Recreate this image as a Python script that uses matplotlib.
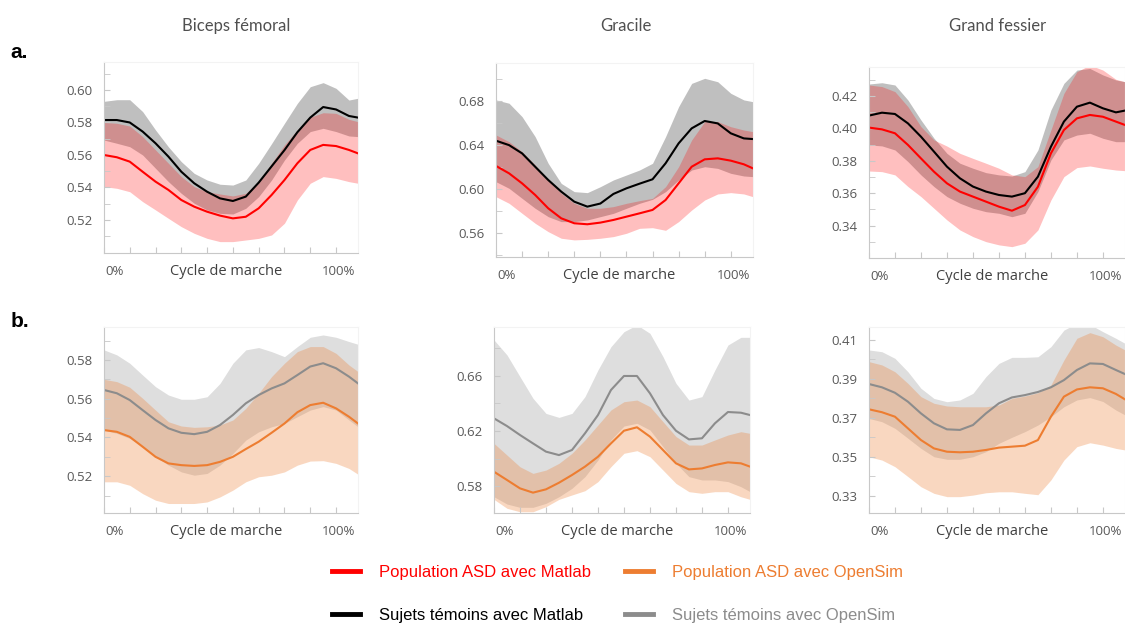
import numpy as np
import matplotlib
matplotlib.use('Agg')
import matplotlib.pyplot as plt
from matplotlib.lines import Line2D

# gait cycle position, in x-tick units (tick 0 = 0 %, tick 9 = 100 %)
cycle = [0, 0.5, 1, 1.5, 2, 2.5, 3, 3.5, 4, 4.5, 5, 5.5, 6, 6.5, 7, 7.5, 8, 8.5, 9, 9.5, 9.85]

# a. Matlab -- Biceps femoral
a_bf_asd_m = [0.560, 0.5586, 0.5559, 0.5497, 0.5436, 0.5385, 0.5323, 0.5282, 0.5251, 0.5227, 0.521,
              0.522, 0.5272, 0.5354, 0.5446, 0.5549, 0.5631, 0.5662, 0.5655, 0.5631, 0.561]
a_bf_asd_hi = [0.580, 0.5795, 0.5778, 0.5713, 0.5631, 0.5549, 0.5467, 0.5405, 0.5374, 0.536, 0.5348,
               0.5364, 0.5436, 0.5549, 0.5662, 0.5754, 0.5832, 0.586, 0.5856, 0.5819, 0.5805]
a_bf_asd_lo = [0.5405, 0.5395, 0.5374, 0.5313, 0.5262, 0.521, 0.5159, 0.5118, 0.5087, 0.5067, 0.5067,
               0.5077, 0.5087, 0.5108, 0.518, 0.5323, 0.5426, 0.5467, 0.5456, 0.5436, 0.5426]
a_bf_ctl_m = [0.5815, 0.5815, 0.580, 0.5744, 0.5672, 0.559, 0.5497, 0.5426, 0.5374, 0.5333, 0.5317,
              0.5344, 0.543, 0.553, 0.563, 0.574, 0.583, 0.5895, 0.588, 0.584, 0.583]
a_bf_ctl_hi = [0.593, 0.594, 0.594, 0.5867, 0.5754, 0.565, 0.5559, 0.5487, 0.5446, 0.542, 0.5415,
               0.5446, 0.5549, 0.567, 0.5795, 0.5918, 0.602, 0.6045, 0.601, 0.5938, 0.5949]
a_bf_ctl_lo = [0.5692, 0.5672, 0.5651, 0.560, 0.5518, 0.5436, 0.5364, 0.5303, 0.5262, 0.5241, 0.5237,
               0.5272, 0.5344, 0.5446, 0.5569, 0.5672, 0.5744, 0.5764, 0.5744, 0.5717, 0.5713]

# a. Matlab -- Gracile
a_gr_asd_m = [0.6211, 0.6144, 0.6053, 0.5948, 0.5827, 0.5736, 0.5691, 0.5682, 0.5697, 0.5721, 0.5751,
              0.5781, 0.5812, 0.5902, 0.6053, 0.6204, 0.6271, 0.628, 0.6259, 0.6226, 0.6189]
a_gr_asd_hi = [0.6492, 0.6431, 0.634, 0.622, 0.6084, 0.5963, 0.5872, 0.5827, 0.5827, 0.5842, 0.5872,
               0.5896, 0.5917, 0.6023, 0.6204, 0.6446, 0.6613, 0.6613, 0.6567, 0.6537, 0.6522]
a_gr_asd_lo = [0.5932, 0.5872, 0.5781, 0.5691, 0.5615, 0.5555, 0.554, 0.5545, 0.5555, 0.557, 0.560,
               0.5645, 0.5651, 0.5627, 0.5706, 0.5811, 0.5902, 0.5957, 0.5969, 0.5957, 0.5932]
a_gr_ctl_m = [0.644, 0.640, 0.6325, 0.6204, 0.6084, 0.5978, 0.5887, 0.5842, 0.587, 0.5957, 0.6008,
              0.605, 0.609, 0.6235, 0.6416, 0.6552, 0.6619, 0.6597, 0.6507, 0.6461, 0.6455]
a_gr_ctl_hi = [0.681, 0.678, 0.6658, 0.6477, 0.6235, 0.6053, 0.5978, 0.5969, 0.6023, 0.6084, 0.6129,
               0.6174, 0.6235, 0.6477, 0.6749, 0.696, 0.7006, 0.6975, 0.687, 0.681, 0.6794]
a_gr_ctl_lo = [0.6068, 0.6008, 0.5917, 0.5827, 0.5751, 0.5706, 0.5706, 0.5721, 0.5751, 0.5781, 0.5827,
               0.5872, 0.5908, 0.5978, 0.6084, 0.6174, 0.6204, 0.6189, 0.6144, 0.612, 0.6114]

# a. Matlab -- Grand fessier
a_gf_asd_m = [0.4005, 0.3994, 0.397, 0.3898, 0.3815, 0.3733, 0.3661, 0.361, 0.3579, 0.3548, 0.3517,
              0.3492, 0.3527, 0.364, 0.3846, 0.399, 0.4062, 0.4083, 0.4072, 0.4042, 0.4021]
a_gf_asd_hi = [0.4268, 0.4258, 0.4227, 0.4134, 0.4011, 0.3929, 0.3891, 0.3846, 0.3815, 0.3785, 0.3754,
               0.3713, 0.3702, 0.3764, 0.399, 0.4216, 0.435, 0.4391, 0.436, 0.4303, 0.4288]
a_gf_asd_lo = [0.3737, 0.3733, 0.3713, 0.3641, 0.3579, 0.3507, 0.3435, 0.3373, 0.3332, 0.3301, 0.3281,
               0.327, 0.3291, 0.3373, 0.3558, 0.3702, 0.3758, 0.3768, 0.3754, 0.3743, 0.3739]
a_gf_ctl_m = [0.4079, 0.4097, 0.4089, 0.4031, 0.3949, 0.3857, 0.3764, 0.3692, 0.3641, 0.361, 0.3589,
              0.3579, 0.360, 0.3702, 0.3887, 0.4042, 0.4134, 0.4159, 0.4124, 0.4099, 0.411]
a_gf_ctl_hi = [0.4274, 0.4282, 0.4268, 0.4175, 0.4052, 0.394, 0.3846, 0.3785, 0.3754, 0.3727, 0.3713,
               0.3706, 0.3733, 0.3867, 0.4114, 0.4278, 0.436, 0.437, 0.433, 0.4299, 0.4288]
a_gf_ctl_lo = [0.3898, 0.3892, 0.3867, 0.3795, 0.3713, 0.3641, 0.3579, 0.3538, 0.3507, 0.3486, 0.3476,
               0.3455, 0.3476, 0.361, 0.3805, 0.3929, 0.3959, 0.397, 0.3939, 0.3918, 0.3918]

# b. OpenSim -- Biceps femoral
b_bf_asd_m = [0.5438, 0.5429, 0.5403, 0.5352, 0.530, 0.5266, 0.5257, 0.5253, 0.5257, 0.5274, 0.530,
              0.534, 0.5378, 0.5424, 0.5472, 0.553, 0.5567, 0.5579, 0.555, 0.5507, 0.5472]
b_bf_asd_hi = [0.570, 0.5688, 0.5659, 0.5602, 0.5541, 0.5481, 0.5459, 0.5452, 0.5455, 0.5464, 0.549,
               0.555, 0.5628, 0.5714, 0.5783, 0.5843, 0.5869, 0.5869, 0.5834, 0.5774, 0.574]
b_bf_asd_lo = [0.5171, 0.5171, 0.5153, 0.511, 0.5076, 0.5059, 0.5059, 0.5059, 0.5067, 0.5093, 0.5128,
               0.5171, 0.5197, 0.5205, 0.5222, 0.5257, 0.5278, 0.528, 0.5266, 0.524, 0.521]
b_bf_ctl_m = [0.5645, 0.5628, 0.5593, 0.5541, 0.549, 0.5447, 0.5424, 0.5417, 0.5429, 0.5464, 0.5516,
              0.5576, 0.5619, 0.5653, 0.5679, 0.5722, 0.5766, 0.5783, 0.5757, 0.5714, 0.5679]
b_bf_ctl_hi = [0.5852, 0.5826, 0.5783, 0.5722, 0.5662, 0.5619, 0.5597, 0.5597, 0.561, 0.5679, 0.5783,
               0.5852, 0.5864, 0.5843, 0.5817, 0.5869, 0.5917, 0.5929, 0.5917, 0.5895, 0.5881]
b_bf_ctl_lo = [0.5438, 0.5421, 0.5395, 0.5352, 0.530, 0.5257, 0.5222, 0.5205, 0.5214, 0.5257, 0.5317,
               0.5386, 0.5429, 0.5455, 0.5472, 0.5507, 0.5541, 0.5559, 0.5541, 0.549, 0.5455]

# b. OpenSim -- Gracile
b_gr_asd_m = [0.5904, 0.5844, 0.5783, 0.5752, 0.5776, 0.5824, 0.588, 0.5941, 0.6013, 0.611, 0.6202,
              0.6227, 0.6159, 0.6062, 0.5965, 0.5921, 0.5928, 0.5953, 0.5972, 0.5965, 0.5941]
b_gr_asd_hi = [0.611, 0.6025, 0.594, 0.5892, 0.5916, 0.5965, 0.6038, 0.6135, 0.6244, 0.6353, 0.6413,
               0.6425, 0.6377, 0.6268, 0.616, 0.6098, 0.6098, 0.6135, 0.6171, 0.6195, 0.6183]
b_gr_asd_lo = [0.5703, 0.5638, 0.5613, 0.5613, 0.565, 0.5703, 0.5735, 0.5766, 0.5832, 0.5941, 0.6038,
               0.6057, 0.6013, 0.5916, 0.5819, 0.5759, 0.5747, 0.5759, 0.5759, 0.5722, 0.5703]
b_gr_ctl_m = [0.6292, 0.6236, 0.6171, 0.611, 0.605, 0.6025, 0.6062, 0.6183, 0.6316, 0.6498, 0.660,
              0.660, 0.6474, 0.6316, 0.6202, 0.6139, 0.6147, 0.6256, 0.6338, 0.6333, 0.6316]
b_gr_ctl_hi = [0.6862, 0.6753, 0.6595, 0.6438, 0.6328, 0.6299, 0.6328, 0.645, 0.6644, 0.6813, 0.6922,
               0.6971, 0.691, 0.6741, 0.6547, 0.6425, 0.645, 0.6644, 0.6825, 0.6881, 0.6881]
b_gr_ctl_lo = [0.5722, 0.5669, 0.5645, 0.5645, 0.5674, 0.5722, 0.5783, 0.5868, 0.5989, 0.6135, 0.6236,
               0.6256, 0.6207, 0.6086, 0.5965, 0.5868, 0.5844, 0.5844, 0.5832, 0.5795, 0.5759]

# b. OpenSim -- Grand fessier
b_gf_asd_m = [0.3744, 0.3729, 0.3706, 0.3646, 0.3586, 0.3543, 0.3526, 0.3523, 0.3526, 0.3535, 0.3547,
              0.3552, 0.3557, 0.3586, 0.3706, 0.3809, 0.3846, 0.3857, 0.3852, 0.3823, 0.3795]
b_gf_asd_hi = [0.3989, 0.3972, 0.3937, 0.3877, 0.3809, 0.3775, 0.3761, 0.3757, 0.3757, 0.3757, 0.3766,
               0.380, 0.3812, 0.3829, 0.3869, 0.3997, 0.4109, 0.4138, 0.4117, 0.4074, 0.4049]
b_gf_asd_lo = [0.350, 0.3483, 0.3449, 0.3398, 0.3346, 0.3312, 0.3295, 0.3295, 0.3303, 0.3315, 0.332,
               0.332, 0.3312, 0.3305, 0.3381, 0.3483, 0.3552, 0.3572, 0.356, 0.3543, 0.3535]
b_gf_ctl_m = [0.3874, 0.3857, 0.3829, 0.3783, 0.3723, 0.3672, 0.3641, 0.3638, 0.3663, 0.3723, 0.3775,
              0.3805, 0.3817, 0.3833, 0.3857, 0.3894, 0.3946, 0.398, 0.3977, 0.3946, 0.3925]
b_gf_ctl_hi = [0.4049, 0.404, 0.4006, 0.3937, 0.3852, 0.380, 0.3783, 0.3792, 0.3826, 0.3912, 0.398,
               0.4011, 0.4011, 0.4014, 0.4066, 0.4151, 0.4186, 0.418, 0.4143, 0.4109, 0.4083]
b_gf_ctl_lo = [0.3697, 0.368, 0.3646, 0.3595, 0.3543, 0.350, 0.3487, 0.3487, 0.350, 0.3526, 0.3569,
               0.360, 0.3629, 0.3663, 0.3706, 0.3757, 0.3792, 0.3804, 0.3784, 0.374, 0.3715]

muscles = ['Biceps fémoral', 'Gracile', 'Grand fessier']
legend_labels = ['Population ASD avec Matlab', 'Sujets témoins avec Matlab',
                 'Population ASD avec OpenSim', 'Sujets témoins avec OpenSim']

RED = '#ff0000'
ORANGE = '#ed7d31'
GREY = '#8c8c8c'
TICK_C = '#595959'

plt.rcParams['font.family'] = ['Open Sans', 'DejaVu Sans']

fig = plt.figure(figsize=(11.25, 6.25), dpi=100)

# axes boxes [left, bottom, width, height] in figure fraction
boxes = [
    [0.0924, 0.5952, 0.2258, 0.3056],
    [0.4409, 0.5888, 0.2284, 0.3104],
    [0.7724, 0.5872, 0.2276, 0.3056],
    [0.0924, 0.1792, 0.2258, 0.2976],
    [0.4391, 0.1792, 0.2276, 0.2976],
    [0.7724, 0.1792, 0.2276, 0.2976],
]
ylims = [(0.4997, 0.6172), (0.5385, 0.7145), (0.320, 0.4379),
         (0.501, 0.597), (0.5604, 0.6956), (0.3211, 0.4167)]
major = [np.arange(0.52, 0.601, 0.02), np.arange(0.56, 0.681, 0.04), np.arange(0.34, 0.421, 0.02),
         np.arange(0.52, 0.581, 0.02), np.arange(0.58, 0.661, 0.04), np.arange(0.33, 0.411, 0.02)]
minor_step = [0.01, 0.02, 0.01, 0.01, 0.02, 0.01]

panels = [
    (a_bf_ctl_m, a_bf_ctl_lo, a_bf_ctl_hi, a_bf_asd_m, a_bf_asd_lo, a_bf_asd_hi),
    (a_gr_ctl_m, a_gr_ctl_lo, a_gr_ctl_hi, a_gr_asd_m, a_gr_asd_lo, a_gr_asd_hi),
    (a_gf_ctl_m, a_gf_ctl_lo, a_gf_ctl_hi, a_gf_asd_m, a_gf_asd_lo, a_gf_asd_hi),
    (b_bf_ctl_m, b_bf_ctl_lo, b_bf_ctl_hi, b_bf_asd_m, b_bf_asd_lo, b_bf_asd_hi),
    (b_gr_ctl_m, b_gr_ctl_lo, b_gr_ctl_hi, b_gr_asd_m, b_gr_asd_lo, b_gr_asd_hi),
    (b_gf_ctl_m, b_gf_ctl_lo, b_gf_ctl_hi, b_gf_asd_m, b_gf_asd_lo, b_gf_asd_hi),
]

for i, (box, data) in enumerate(zip(boxes, panels)):
    ax = fig.add_axes(box)
    ctl_m, ctl_lo, ctl_hi, asd_m, asd_lo, asd_hi = data
    if i < 3:
        # Matlab row: black / red
        ax.fill_between(cycle, ctl_lo, ctl_hi, color='black', alpha=0.25, lw=0)
        ax.fill_between(cycle, asd_lo, asd_hi, color=RED, alpha=0.25, lw=0)
        ax.plot(cycle, ctl_m, color='black', lw=1.5)
        ax.plot(cycle, asd_m, color=RED, lw=1.5)
    else:
        # OpenSim row: grey / orange
        ax.fill_between(cycle, ctl_lo, ctl_hi, color='black', alpha=0.13, lw=0)
        ax.fill_between(cycle, asd_lo, asd_hi, color=ORANGE, alpha=0.3, lw=0)
        ax.plot(cycle, ctl_m, color=GREY, lw=1.5)
        ax.plot(cycle, asd_m, color=ORANGE, lw=1.5)

    ax.set_xlim(0, 9.85)
    ax.set_ylim(*ylims[i])
    ax.set_xticks(range(10))
    ax.set_xticklabels([])
    ax.set_yticks(major[i])
    ax.set_yticklabels(['%.2f' % v for v in major[i]])
    lo_t, hi_t = ylims[i]
    st = minor_step[i]
    ax.set_yticks(np.arange(np.ceil(lo_t / st) * st, hi_t, st), minor=True)
    ax.tick_params(axis='both', which='both', direction='in', length=4, color='#c8c8c8',
                   labelsize=9.5, labelcolor=TICK_C, pad=8)
    for side in ['left', 'bottom']:
        ax.spines[side].set_color('#c8c8c8')
    for side in ['top', 'right']:
        ax.spines[side].set_color('#f3f3f3')

    ax.annotate('0%', xy=(0, 0), xycoords='axes fraction', xytext=(1, -13),
                textcoords='offset points', ha='left', va='center', fontsize=9.5, color=TICK_C)
    ax.annotate('100%', xy=(9.1 / 9.85, 0), xycoords='axes fraction', xytext=(0, -13),
                textcoords='offset points', ha='center', va='center', fontsize=9.5, color=TICK_C)
    ax.annotate('Cycle de marche', xy=(0.48, 0), xycoords='axes fraction', xytext=(0, -13),
                textcoords='offset points', ha='center', va='center', fontsize=10.5, color='#404040')

# column titles
for xc, name in zip([0.21, 0.556, 0.887], muscles):
    fig.text(xc, 0.958, name, ha='center', va='center', fontsize=12, color='#505050', family='Lato')

fig.text(0.009, 0.916, 'a.', fontsize=15, fontweight='bold', family='Liberation Sans', va='center')
fig.text(0.009, 0.485, 'b.', fontsize=15, fontweight='bold', family='Liberation Sans', va='center')

handles = [Line2D([], [], color=RED, lw=3.5), Line2D([], [], color='black', lw=3.5),
           Line2D([], [], color=ORANGE, lw=3.5), Line2D([], [], color=GREY, lw=3.5)]
fig.legend(handles, legend_labels, loc='center', bbox_to_anchor=(0.549, 0.05), ncol=2,
           frameon=False, prop={'family': 'Liberation Sans', 'size': 12},
           handlelength=1.7, handletextpad=1.15, columnspacing=2.0, labelspacing=1.7,
           labelcolor=[RED, 'black', ORANGE, GREY])

fig.savefig('out.png', dpi=100)
